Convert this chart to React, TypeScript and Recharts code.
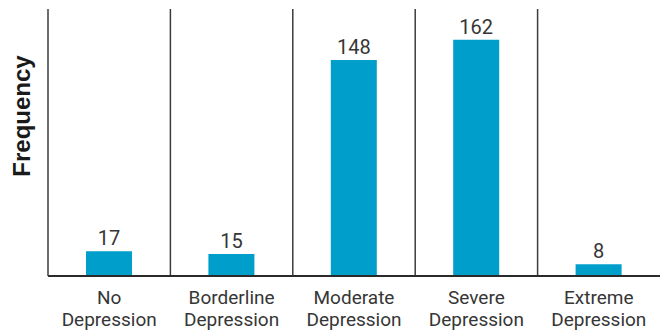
import { BarChart, Bar, XAxis, YAxis, CartesianGrid, LabelList, Label } from 'recharts';

const categories = ['No Depression', 'Borderline Depression', 'Moderate Depression', 'Severe Depression', 'Extreme Depression'];
const frequency = [17, 15, 148, 162, 8];
const yLabel = 'Frequency';

const data = categories.map((name, i) => ({ name, value: frequency[i] }));

const FONT = 'Roboto, "Noto Sans", sans-serif';
const INK = '#363636';

const CategoryTick = ({ x, y, payload }) => {
  const words = String(payload.value).split(' ');
  const first = words.slice(0, -1).join(' ');
  const last = words[words.length - 1];
  return (
    <text x={x} y={y} textAnchor="middle" fill={INK} fontSize={19} fontFamily={FONT}>
      <tspan x={x} dy={28}>{first}</tspan>
      <tspan x={x} dy={22}>{last}</tspan>
    </text>
  );
};

// separators between the categories
const separators = ({ offset }) => {
  const n = categories.length;
  const out = [];
  for (let i = 1; i < n; i++) out.push(offset.left + (offset.width * i) / n);
  return out;
};

const App = () => {
  return (
    <div style={{ position: 'absolute', left: 0, top: 0, width: 662, height: 333, background: '#fff' }}>
      <BarChart
        width={662}
        height={333}
        data={data}
        margin={{ top: 9, right: 2, bottom: 0, left: 0 }}
        barCategoryGap={0}
      >
        <CartesianGrid
          horizontal={false}
          stroke="#3c3c3c"
          strokeWidth={1.5}
          verticalCoordinatesGenerator={separators}
        />
        <XAxis
          dataKey="name"
          height={57}
          tickLine={false}
          tickSize={0}
          tickMargin={0}
          interval={0}
          stroke="#2a2a2a"
          strokeWidth={2}
          tick={<CategoryTick />}
        />
        <YAxis
          width={48}
          domain={[0, 183]}
          tick={false}
          tickLine={false}
          stroke="#3c3c3c"
          strokeWidth={1.5}
        >
          <Label
            content={() => (
              <text
                x={30}
                y={116}
                transform="rotate(-90, 30, 116)"
                textAnchor="middle"
                fill="#1a1a1a"
                fontSize={24}
                fontWeight="bold"
                fontFamily='"Liberation Sans", Arial, sans-serif'
              >
                {yLabel}
              </text>
            )}
          />
        </YAxis>
        <Bar dataKey="value" fill="#009ECB" barSize={46} isAnimationActive={false}>
          <LabelList dataKey="value" position="top" offset={6} fill={INK} fontSize={20} fontFamily={FONT} />
        </Bar>
      </BarChart>
    </div>
  );
};

export default App;
